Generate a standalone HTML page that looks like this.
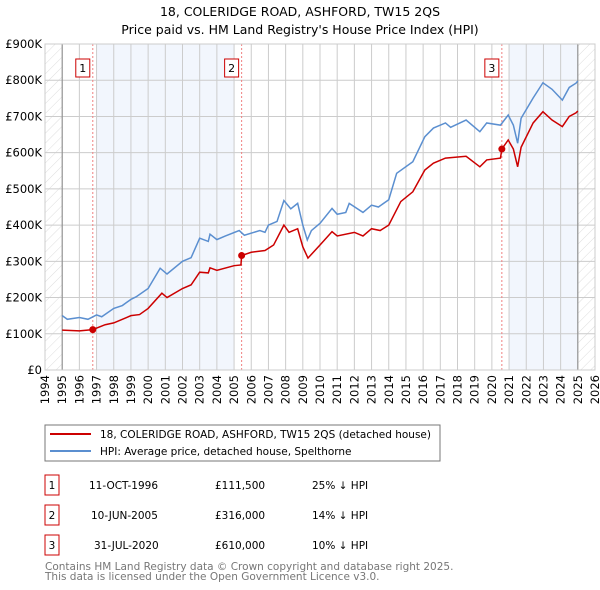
<!DOCTYPE html>
<html><head><meta charset="utf-8">
<style>
body{margin:0;background:#fff;font-family:"DejaVu Sans","Liberation Sans",sans-serif;}
#wrap{position:relative;width:600px;height:590px;overflow:hidden}
</style></head><body>
<div id="wrap">
<svg id="chart" width="600" height="590" xmlns="http://www.w3.org/2000/svg" font-family="DejaVu Sans, Liberation Sans, sans-serif">
<defs><pattern id="hatch" width="7" height="7" patternUnits="userSpaceOnUse" patternTransform="rotate(45)"><line x1="0" y1="0" x2="0" y2="7" stroke="#d4d4d4" stroke-width="0.8"/></pattern></defs>
<text x="300" y="16" text-anchor="middle" font-size="12.5">18, COLERIDGE ROAD, ASHFORD, TW15 2QS</text>
<text x="300" y="34" text-anchor="middle" font-size="12.5">Price paid vs. HM Land Registry's House Price Index (HPI)</text>
<g id="plot"></g>
<rect x="45" y="425" width="395" height="36" fill="#fff" stroke="#777"/>
<line x1="50" y1="434" x2="91" y2="434" stroke="#cc0000" stroke-width="2"/>
<text x="100" y="438" font-size="10.5">18, COLERIDGE ROAD, ASHFORD, TW15 2QS (detached house)</text>
<line x1="50" y1="451" x2="91" y2="451" stroke="#5b8fd0" stroke-width="2"/>
<text x="100" y="455" font-size="10.5">HPI: Average price, detached house, Spelthorne</text>
<g font-size="10.5">
<rect x="45" y="475" width="14" height="20" fill="none" stroke="#cc0000"/><text x="52" y="489" text-anchor="middle">1</text>
<text x="89" y="489">11-OCT-1996</text><text x="215" y="489">£111,500</text><text x="312" y="489">25% ↓ HPI</text>
<rect x="45" y="505" width="14" height="20" fill="none" stroke="#cc0000"/><text x="52" y="519" text-anchor="middle">2</text>
<text x="91" y="519">10-JUN-2005</text><text x="215" y="519">£316,000</text><text x="312" y="519">14% ↓ HPI</text>
<rect x="45" y="535" width="14" height="20" fill="none" stroke="#cc0000"/><text x="52" y="549" text-anchor="middle">3</text>
<text x="94" y="549">31-JUL-2020</text><text x="215" y="549">£610,000</text><text x="312" y="549">10% ↓ HPI</text>
</g>
<text x="45" y="570" font-size="10.5" fill="#777">Contains HM Land Registry data © Crown copyright and database right 2025.</text>
<text x="45" y="580" font-size="10.5" fill="#777">This data is licensed under the Open Government Licence v3.0.</text>
</svg>
</div>
<script>
const yTicks=[0,100,200,300,400,500,600,700,800,900];
const yTickLabels=["£0","£100K","£200K","£300K","£400K","£500K","£600K","£700K","£800K","£900K"];
const xYears=[1994,1995,1996,1997,1998,1999,2000,2001,2002,2003,2004,2005,2006,2007,2008,2009,2010,2011,2012,2013,2014,2015,2016,2017,2018,2019,2020,2021,2022,2023,2024,2025,2026];
const hpiT=[1995,1995.3,1996,1996.5,1997,1997.3,1998,1998.5,1999,1999.3,2000,2000.7,2001.1,2002,2002.5,2003,2003.5,2003.6,2004,2004.5,2005.3,2005.6,2006.5,2006.8,2007,2007.5,2007.9,2008.3,2008.7,2009.0,2009.26,2009.5,2010,2010.7,2011,2011.5,2011.7,2012.5,2013,2013.4,2014,2014.46,2015.4,2016.1,2016.6,2017.3,2017.6,2018.5,2019.3,2019.7,2020.5,2020.95,2021.25,2021.5,2021.7,2022.4,2022.97,2023.5,2024.1,2024.5,2024.9,2025];
const hpiV=[150,140,145,140,152,147,170,178,195,202,225,281,265,300,310,364,355,375,360,370,385,372,385,380,400,410,468,445,460,400,359,385,405,446,430,435,460,435,455,450,470,543,575,644,668,682,670,690,658,682,676,704,676,626,695,751,793,775,745,780,792,798];
const ppT=[1995,1996,1996.78,1997.5,1998,1999,1999.5,2000,2000.8,2001.1,2002,2002.5,2003,2003.5,2003.6,2004,2005,2005.4,2005.44,2006,2006.8,2007.3,2007.9,2008.2,2008.7,2009.0,2009.3,2010,2010.7,2011,2012,2012.5,2013,2013.5,2014,2014.7,2015.4,2016.1,2016.6,2017.3,2018.5,2019.3,2019.7,2020.5,2020.58,2020.95,2021.25,2021.5,2021.7,2022.4,2022.97,2023.5,2024.1,2024.5,2024.9,2025];
const ppV=[110,108,111.5,125,130,150,153,170,212,200,225,235,270,268,282,275,288,290,316,325,330,345,400,380,390,340,309,345,382,370,380,370,390,385,400,465,492,552,571,585,590,561,580,585,610,635,610,561,615,682,713,690,672,700,710,715];
const saleT=[1996.78,2005.44,2020.58];
const saleV=[111.5,316,610];
const saleLabels=["1","2","3"];
const X0=45,X1=595,Y0=370,Y1=44;
const xs=y=>X0+(y-1994)/(2026-1994)*(X1-X0);
const ys=v=>Y0-v/900*(Y0-Y1);
const NS="http://www.w3.org/2000/svg";
const g=document.getElementById('plot');
function mk(t,a){const e=document.createElementNS(NS,t);for(const k in a)e.setAttribute(k,a[k]);g.appendChild(e);return e;}
let e;
e=mk('rect',{x:X0,y:Y1,width:xs(1995)-X0,height:Y0-Y1,fill:'url(#hatch)'});


e=mk('rect',{x:xs(2025),y:Y1,width:X1-xs(2025),height:Y0-Y1,fill:'url(#hatch)'});


e=mk('rect',{x:xs(1997),y:Y1,width:xs(2005)-xs(1997),height:Y0-Y1,fill:'#f2f6fd'});


e=mk('rect',{x:xs(2021),y:Y1,width:xs(2025)-xs(2021),height:Y0-Y1,fill:'#f2f6fd'});


yTicks.forEach((v,i)=>{
 e=mk('line',{x1:X0,x2:X1,y1:ys(v),y2:ys(v),stroke:'#cccccc'});
 
 
 e=mk('text',{x:X0-3,y:ys(v)+4,'text-anchor':'end','font-size':11.5});
 e.textContent=yTickLabels[i];
 
 
});
xYears.forEach(yr=>{
 e=mk('line',{x1:xs(yr),x2:xs(yr),y1:Y1,y2:Y0,stroke:'#cccccc'});
 
 
 e=mk('text',{x:0,y:0,'text-anchor':'end','font-size':11.5,transform:`translate(${xs(yr)+4},${Y0+5}) rotate(-90)`});
 e.textContent=yr;
 
 
});
e=mk('line',{x1:xs(1995),x2:xs(1995),y1:Y1,y2:Y0,stroke:'#888'});


e=mk('line',{x1:xs(2025),x2:xs(2025),y1:Y1,y2:Y0,stroke:'#888'});


saleT.forEach((t,i)=>{
 e=mk('line',{x1:xs(t),x2:xs(t),y1:Y1,y2:Y0,stroke:'#f08080','stroke-dasharray':'2,2'});
 
 
 e=mk('rect',{x:xs(t)-17,y:59,width:14,height:18,fill:'#fff',stroke:'#cc0000'});
 
 
 e=mk('text',{x:xs(t)-10,y:72,'text-anchor':'middle','font-size':11});
 e.textContent=saleLabels[i];
 
 
});
e=mk('polyline',{points:hpiT.map((t,i)=>xs(t)+','+ys(hpiV[i])).join(' '),fill:'none',stroke:'#5b8fd0','stroke-width':1.5});


e=mk('polyline',{points:ppT.map((t,i)=>xs(t)+','+ys(ppV[i])).join(' '),fill:'none',stroke:'#cc0000','stroke-width':1.5});


saleT.forEach((t,i)=>{
 e=mk('circle',{cx:xs(t),cy:ys(saleV[i]),r:3.5,fill:'#cc0000'});
 
 
});
e=mk('rect',{x:X0,y:Y1,width:X1-X0,height:Y0-Y1,fill:'none',stroke:'#cccccc'});


</script>
</body></html>
